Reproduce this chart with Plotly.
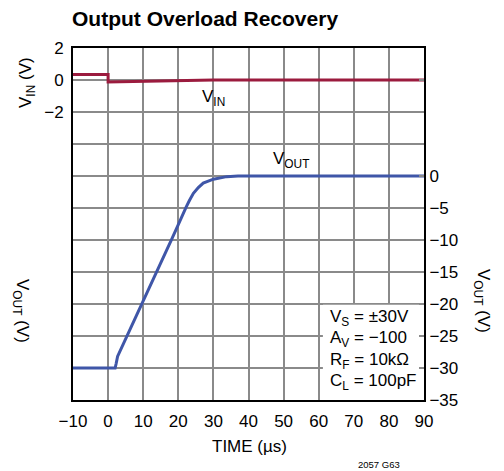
import plotly.graph_objects as go

# Input step (V) vs time (µs)
t_vin = [-10, 0, 0, 5, 10, 15, 20, 25, 30, 90]
v_vin = [0.35, 0.35, -0.13, -0.11, -0.09, -0.06, -0.03, -0.01, 0, 0]

# Output recovery (V) vs time (µs)
t_vout = [-10, 2.0, 2.3, 2.7, 5.3, 10, 14.8, 18.1, 20, 21, 22.2, 23.2, 24.3,
          25.7, 27.1, 30, 33.8, 37, 90]
v_vout = [-30, -30, -29.3, -28.2, -25.1, -19.6, -14.0, -9.9, -7.6, -6.3, -4.9,
          -3.8, -2.7, -1.8, -1.1, -0.5, -0.1, 0, 0]

x_ticks = list(range(-10, 91, 10))
vin_ticks = [2, 0, -2]
vout_ticks = list(range(-35, 21, 5))


def minus(v):
    return ("\u2212" + str(-v)) if v < 0 else str(v)


vout_labels = [minus(v) if v <= 0 else "" for v in vout_ticks]
x_labels = [minus(v) for v in x_ticks]
vin_labels = [minus(v) for v in vin_ticks]

conditions = ["V<sub>S</sub> = \u00b130V", "A<sub>V</sub> = \u2212100",
              "R<sub>F</sub> = 10k\u03a9", "C<sub>L</sub> = 100pF"]

FONT = "Liberation Sans, Arial, sans-serif"
RED = "#9b1b3e"
BLUE = "#3f56a8"
GRID = "#8a8a8a"

fig = go.Figure()
fig.add_trace(go.Scatter(x=t_vin, y=v_vin, mode="lines", yaxis="y",
                         line=dict(color=RED, width=3), showlegend=False))
fig.add_trace(go.Scatter(x=t_vout, y=v_vout, mode="lines", yaxis="y2",
                         line=dict(color=BLUE, width=3), showlegend=False))

fig.update_layout(
    width=504, height=471,
    margin=dict(l=73, r=80, t=48, b=71),
    paper_bgcolor="white", plot_bgcolor="white",
    font=dict(family=FONT, size=17, color="black"),
    xaxis=dict(range=[-10, 90], tickvals=x_ticks, ticktext=x_labels,
               showgrid=True, gridcolor=GRID, gridwidth=1.5,
               showline=True, linecolor="black", linewidth=2, mirror=True,
               ticks="", zeroline=False, ticklabelstandoff=5),
    yaxis=dict(range=[-20, 2], tickvals=vin_ticks, ticktext=vin_labels,
               showgrid=False, zeroline=False, showline=True,
               linecolor="black", linewidth=2, ticks="", ticklabelstandoff=4),
    yaxis2=dict(range=[-35, 20], tickvals=vout_ticks, ticktext=vout_labels,
                overlaying="y", side="right", showgrid=True,
                gridcolor=GRID, gridwidth=1.5, zeroline=False,
                showline=True, linecolor="black", linewidth=2,
                ticks="inside", ticklen=5, tickcolor=GRID, tickwidth=1.5),
)

# White box behind the test conditions (covers the grid, not the traces)
fig.add_shape(type="rect", xref="x", yref="y", x0=61.2, x1=90, y0=-20, y1=-14.05,
              fillcolor="white", line=dict(width=0), layer="between")


def px(xp, yp):
    return (xp - 73) / 351, (400 - yp) / 352


line_y = [318, 339, 361, 382]
for txt, py in zip(conditions, line_y):
    ax, ay = px(328, py)
    fig.add_annotation(text=txt, xref="paper", yref="paper", x=ax, y=ay,
                       xanchor="left", yanchor="middle", showarrow=False,
                       font=dict(size=17))

fig.add_annotation(text="V<sub>IN</sub>", xref="x", yref="y", x=30, y=-1.1,
                   showarrow=False, font=dict(size=17))
fig.add_annotation(text="V<sub>OUT</sub>", xref="x", yref="y2", x=52, y=2.5,
                   showarrow=False, font=dict(size=17))

for txt, (xp, yp), ang in [("V<sub>IN</sub> (V)", (27, 83), -90),
                           ("V<sub>OUT</sub> (V)", (21, 311), 90),
                           ("V<sub>OUT</sub> (V)", (482, 301), 90)]:
    ax, ay = px(xp, yp)
    fig.add_annotation(text=txt, xref="paper", yref="paper", x=ax, y=ay,
                       textangle=ang, showarrow=False, font=dict(size=17),
                       xanchor="center", yanchor="middle")

ax, ay = px(249, 435)
fig.add_annotation(text="TIME (\u00b5s)", xref="paper", yref="paper", x=ax, y=ay,
                   showarrow=False, font=dict(size=17), yanchor="top")
ax, ay = px(402, 457)
fig.add_annotation(text="2057 G63", xref="paper", yref="paper", x=ax, y=ay,
                   showarrow=False, font=dict(size=9.5), yanchor="top")
ax, ay = px(70, 18)
fig.add_annotation(text="<b>Output Overload Recovery</b>", xref="paper", yref="paper",
                   x=ax, y=ay, xanchor="left", yanchor="middle", showarrow=False,
                   font=dict(size=21))

fig.write_html("out.html")
